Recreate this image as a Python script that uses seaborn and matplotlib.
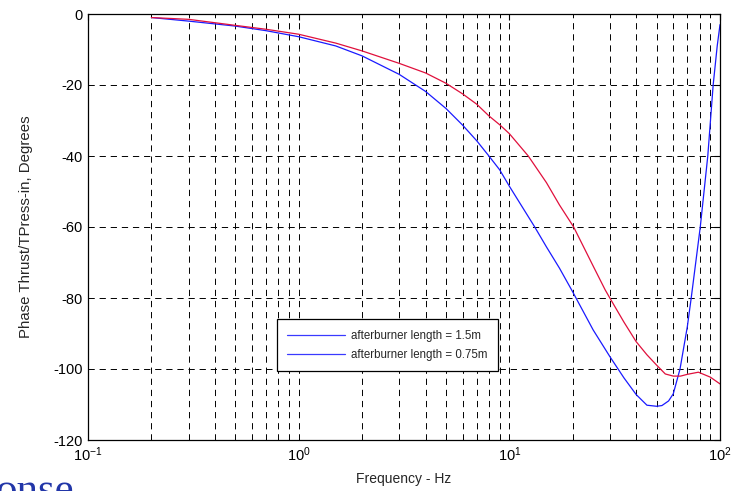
import matplotlib
matplotlib.use("Agg")
import matplotlib.pyplot as plt
import seaborn as sns
import pandas as pd
import numpy as np
from matplotlib.lines import Line2D
from matplotlib.ticker import LogLocator, FixedLocator, NullFormatter

# ---- data ----
freq_long = [0.2, 0.3, 0.5, 0.7, 1.0, 1.5, 2.0, 3.0, 4.0, 5.0, 6.0, 7.0, 8.0, 9.0, 10.0,
             13.2, 15.0, 17.3, 20.0, 25.0, 30.0, 35.0, 40.0, 45.0, 50.0, 53.0, 57.0, 60.0,
             64.6, 70.0, 73.0, 80.6, 87.5, 92.8, 97.0, 100.0]
phase_long = [-1.0, -2.0, -3.4, -4.7, -6.4, -9.0, -11.8, -17.0, -21.8, -26.6, -31.3, -35.7,
              -40.0, -43.9, -48.5, -60.0, -65.6, -71.6, -78.3, -89.0, -96.5, -102.5,
              -107.2, -110.2, -110.5, -110.3, -109.0, -107.0, -100.0, -88.0, -80.0, -60.0,
              -40.0, -20.0, -9.0, -3.0]

freq_short = [0.2, 0.3, 0.5, 0.7, 1.0, 1.5, 2.0, 3.0, 4.0, 5.0, 6.0, 7.0, 8.0, 9.0, 10.0,
              12.3, 15.0, 17.3, 20.2, 25.0, 28.5, 30.0, 35.0, 40.0, 45.0, 50.0, 55.0, 60.0,
              65.0, 70.0, 79.0, 90.0, 100.0]
phase_short = [-1.0, -1.5, -3.2, -4.3, -5.7, -8.2, -10.4, -13.9, -16.6, -19.5, -22.5, -25.4,
               -28.7, -31.2, -33.7, -40.0, -47.5, -53.8, -60.0, -71.0, -77.7, -80.0, -86.8,
               -92.3, -96.0, -98.9, -101.4, -102.0, -102.0, -101.5, -100.9, -102.3, -104.2]

label_long = "afterburner length = 1.5m"
label_short = "afterburner length = 0.75m"
xlabel = "Frequency - Hz"
ylabel = "Phase Thrust/TPress-in, Degrees"
yticks = [0, -20, -40, -60, -80, -100, -120]
xtick_vals = [0.1, 1, 10, 100]
xtick_labels = [r"$10^{-1}$", r"$10^{0}$", r"$10^{1}$", r"$10^{2}$"]

sns.set_style("white")
plt.rcParams['font.family'] = ['Liberation Sans', 'DejaVu Sans']
plt.rcParams['axes.unicode_minus'] = False
plt.rcParams['mathtext.fontset'] = 'custom'
plt.rcParams['mathtext.rm'] = 'Liberation Sans'
plt.rcParams['mathtext.it'] = 'Liberation Sans:italic'
plt.rcParams['mathtext.bf'] = 'Liberation Sans:bold'
plt.rcParams['mathtext.default'] = 'regular'
plt.rcParams['lines.scale_dashes'] = False

df = pd.concat([
    pd.DataFrame({"f": freq_long, "phase": phase_long, "series": label_long}),
    pd.DataFrame({"f": freq_short, "phase": phase_short, "series": label_short}),
])

fig = plt.figure(figsize=(7.32, 4.91), dpi=100)
ax = fig.add_axes([88/732, 51/491, 632/732, 426/491])

sns.lineplot(data=df, x="f", y="phase", hue="series",
             palette={label_long: "#1a1aff", label_short: "#e0103c"},
             linewidth=0.9, ax=ax, legend=False, sort=False, estimator=None)

ax.set_xscale('log')
ax.set_xlim(0.1, 100)
ax.set_ylim(-120, 0)
ax.set_yticks(yticks)
ax.xaxis.set_major_locator(FixedLocator(xtick_vals))
ax.xaxis.set_minor_locator(LogLocator(base=10, subs=np.arange(2, 10)))
ax.xaxis.set_minor_formatter(NullFormatter())
ax.set_xticklabels(xtick_labels)

dash = (0, (4.5, 3.5))
ax.grid(True, which='major', axis='both', color='black', linestyle=dash, linewidth=0.7)
ax.grid(True, which='minor', axis='x', color='black', linestyle=dash, linewidth=0.7)
ax.set_axisbelow(True)

for s in ax.spines.values():
    s.set_color('black')
    s.set_linewidth(0.9)

ax.tick_params(axis='both', which='both', direction='in', top=True, right=True,
               labelsize=10.5, colors='black', pad=4)
ax.tick_params(which='major', length=4)
ax.tick_params(which='minor', length=2.5)

ax.set_xlabel(xlabel, fontsize=10, labelpad=6)
ax.set_ylabel(ylabel, fontsize=10.8, labelpad=14)

handles = [Line2D([], [], color="#3a3aff", linewidth=0.9),
           Line2D([], [], color="#3a3aff", linewidth=0.9)]
leg = ax.legend(handles, [label_long, label_short], loc='lower left',
                bbox_to_anchor=(0.299, 0.162), fontsize=8.3, frameon=True,
                fancybox=False, framealpha=1, edgecolor='black',
                handlelength=5.0, handletextpad=0.5, borderpad=0.9,
                labelspacing=0.6, borderaxespad=0)
leg.get_frame().set_linewidth(0.9)
leg.set_zorder(5)

fig.text(-0.006, -0.022, "onse", fontsize=31, family=['Liberation Serif', 'DejaVu Serif'],
         color="#2236a8", va='baseline', ha='left')

fig.savefig("out.png", dpi=100)
